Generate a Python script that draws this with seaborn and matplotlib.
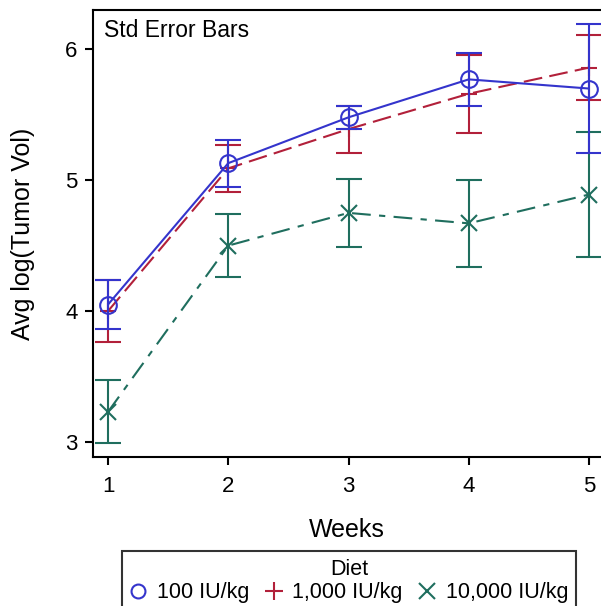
import matplotlib
matplotlib.use("Agg")
import matplotlib.pyplot as plt
from matplotlib.lines import Line2D
import seaborn as sns

weeks = [1, 2, 3, 4, 5]
diets = ['100 IU/kg', '1,000 IU/kg', '10,000 IU/kg']

# mean log(tumor volume) per week, and its standard error
mean_100 = [4.05, 5.13, 5.48, 5.77, 5.70]
se_100 = [0.19, 0.18, 0.09, 0.20, 0.49]
mean_1000 = [4.00, 5.09, 5.39, 5.66, 5.86]
se_1000 = [0.24, 0.18, 0.18, 0.30, 0.25]
mean_10000 = [3.23, 4.50, 4.75, 4.67, 4.89]
se_10000 = [0.24, 0.24, 0.26, 0.33, 0.48]

sns.set_theme(style='ticks')
plt.rcParams['font.family'] = ['Liberation Sans', 'DejaVu Sans']
plt.rcParams['text.color'] = 'black'
plt.rcParams['axes.labelcolor'] = 'black'
plt.rcParams['xtick.color'] = 'black'
plt.rcParams['ytick.color'] = 'black'

fig = plt.figure(figsize=(6.01, 6.06), dpi=100)
ax = fig.add_axes([93 / 601, 1 - 457 / 606, 1 - 93 / 601, (457 - 10) / 606])

blue, red, green = '#3434CC', '#B2203A', '#1F6E5E'

series = [
    (mean_10000, se_10000, green, 'x', (0, (9, 4, 3, 4))),
    (mean_1000, se_1000, red, '+', (0, (9, 3.5))),
    (mean_100, se_100, blue, 'o', '-'),
]

for mean, se, col, mk, ls in series:
    ax.errorbar(weeks, mean, yerr=se, fmt='none', ecolor=col,
                elinewidth=1.5, capsize=9.5, capthick=1.5)
    sns.lineplot(x=weeks, y=mean, ax=ax, color=col, linewidth=1.5,
                 linestyle=ls, marker=mk, markersize=12,
                 markerfacecolor='none', markeredgecolor=col,
                 markeredgewidth=1.5)

ax.set_xlim(0.875, 5.10)
ax.set_ylim(2.885, 6.30)
ax.set_xticks(weeks)
ax.set_yticks([3, 4, 5, 6])
ax.tick_params(length=6, width=1.5, labelsize=16)
ax.tick_params(axis='x', pad=8)
ax.tick_params(axis='y', pad=5)
for s in ['left', 'bottom', 'top']:
    ax.spines[s].set_linewidth(1.5)
    ax.spines[s].set_color('black')
ax.spines['right'].set_visible(False)

ax.set_xlabel('Weeks', fontsize=18, labelpad=15)
ax.set_ylabel('Avg log(Tumor Vol)', fontsize=18, labelpad=22)
ax.text(11 / 508, 1 - 9 / 447, 'Std Error Bars', transform=ax.transAxes,
        fontsize=16.5, va='top', ha='left')

handles = [
    Line2D([], [], color=blue, marker='o', linestyle='none', markersize=10,
           markerfacecolor='none', markeredgewidth=1.5),
    Line2D([], [], color=red, marker='+', linestyle='none', markersize=13,
           markeredgewidth=1.5),
    Line2D([], [], color=green, marker='x', linestyle='none', markersize=11,
           markeredgewidth=1.5),
]
leg = fig.legend(handles, diets, title='Diet', ncol=3, fontsize=15.5,
                 title_fontsize=15.5, loc='upper center',
                 bbox_to_anchor=(349 / 601, 1 - 551 / 606),
                 frameon=True, fancybox=False, edgecolor='black',
                 handlelength=0.8, handletextpad=0.45, columnspacing=0.75,
                 borderpad=0.38, borderaxespad=0, labelspacing=0.1)
leg.get_frame().set_linewidth(1.5)

fig.savefig('out.png', dpi=100)
